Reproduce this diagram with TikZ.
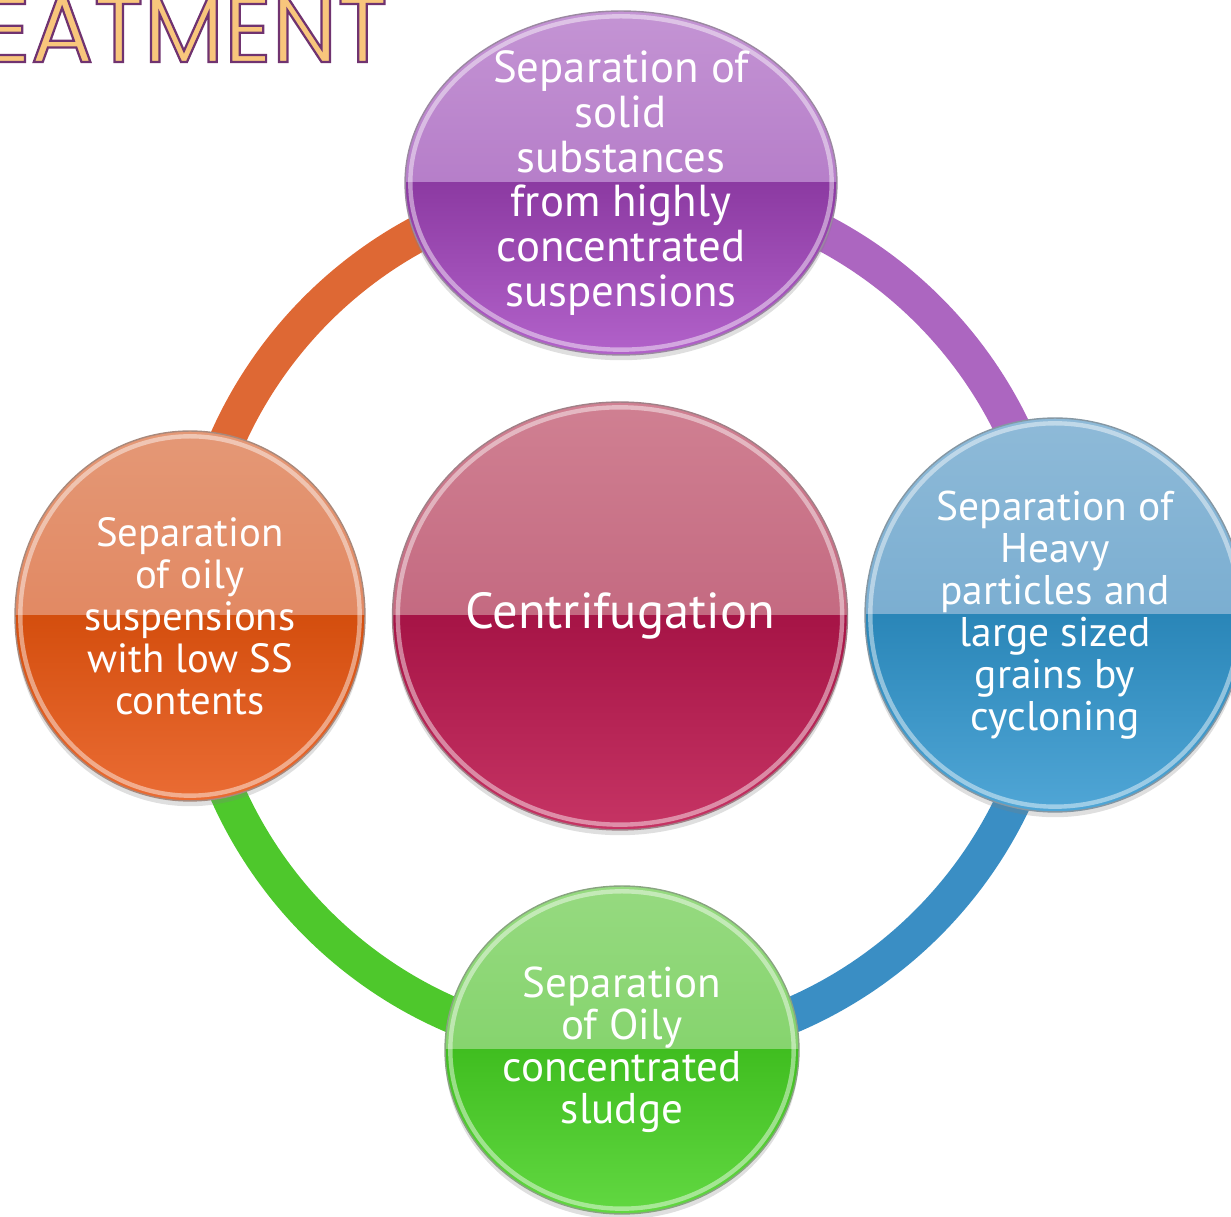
\documentclass[tikz,border=0pt]{standalone}
\usepackage{fontspec}
\setmainfont{PT Sans}
\newfontfamily\titlefont{Poppins}[FakeBold=2.4]
\usetikzlibrary{shapes.geometric,shadows,backgrounds,calc}

\definecolor{purpleA}{RGB}{196,148,212}
\definecolor{purpleB}{RGB}{168,104,190}
\definecolor{purpleC}{RGB}{140,58,162}
\definecolor{purpleD}{RGB}{178,98,202}
\definecolor{blueA}{RGB}{142,186,216}
\definecolor{blueB}{RGB}{104,162,202}
\definecolor{blueC}{RGB}{42,134,184}
\definecolor{blueD}{RGB}{80,166,214}
\definecolor{redA}{RGB}{208,128,146}
\definecolor{redB}{RGB}{184,84,112}
\definecolor{redC}{RGB}{166,20,70}
\definecolor{redD}{RGB}{198,52,100}
\definecolor{orangeA}{RGB}{228,152,118}
\definecolor{orangeB}{RGB}{224,122,80}
\definecolor{orangeC}{RGB}{212,78,14}
\definecolor{orangeD}{RGB}{234,108,52}
\definecolor{greenA}{RGB}{150,218,128}
\definecolor{greenB}{RGB}{118,206,92}
\definecolor{greenC}{RGB}{64,190,32}
\definecolor{greenD}{RGB}{98,216,66}
\definecolor{purpleRing}{RGB}{172,102,192}
\definecolor{blueRing}{RGB}{58,142,196}
\definecolor{greenRing}{RGB}{78,200,44}
\definecolor{orangeRing}{RGB}{222,104,52}
\definecolor{titlefill}{RGB}{248,198,124}

\tikzset{
  ball/.style={ellipse, inner sep=0pt, draw=#1A!40!gray, line width=0.8pt,
    drop shadow={opacity=0.25, shadow xshift=0pt, shadow yshift=-3pt},
    path picture={
      \shade[top color=#1A, bottom color=#1B] (path picture bounding box.north west) rectangle (path picture bounding box.east);
      \shade[top color=#1C, bottom color=#1D] (path picture bounding box.west) rectangle (path picture bounding box.south east);
      \draw[white, opacity=0.45, line width=2.5pt] let \p1=($(path picture bounding box.north east)-(path picture bounding box.center)$) in
        (path picture bounding box.center) ellipse [x radius=\x1-3pt, y radius=\y1-3pt];
    }},
  balltext/.style={align=center, text=white, inner sep=0pt, font=\fontsize{23.6}{23.9}\selectfont},
  ring/.style={line width=0.72cm, draw=#1},
  titletext/.style={inner sep=0pt, text=titlefill, font=\titlefont\fontsize{53}{53}\selectfont},
}

\begin{document}
\begin{tikzpicture}[x=0.02cm, y=0.02cm]

\useasboundingbox (0,0) rectangle (1231,1217);

% title, cut at the page edge (stroke colour set by hand)
\node[titletext, anchor=base east] (title) at (388,1155) {\special{pdf:code 0.44 0.2 0.44 RG}EATMENT};

% the four outer balls and the hub
\node[ball=purple, minimum width=8.64cm, minimum height=6.88cm,
  label={[balltext, font=\fontsize{25.5}{25.4}\selectfont, name=solidstext]center:Separation of\\solid\\substances\\from highly\\concentrated\\suspensions}] (solids) at (621,1034) {};
\node[ball=blue, minimum width=7.6cm, minimum height=7.88cm,
  label={[balltext, name=heavytext]center:Separation of\\Heavy\\particles and\\large sized\\grains by\\cycloning}] (heavy) at (1055,602) {};
\node[ball=green, minimum width=7.08cm, minimum height=6.56cm,
  label={[balltext, font=\fontsize{24.5}{23.9}\selectfont, name=sludgetext]center:Separation\\of Oily\\concentrated\\sludge}] (sludge) at (622,167) {};
\node[ball=orange, minimum width=7cm, minimum height=7.4cm,
  label={[balltext, font=\fontsize{23.2}{23.9}\selectfont, name=oilytext]center:Separation\\of oily\\suspensions\\with low SS\\contents}] (oily) at (190,601) {};
\node[ball=red, minimum width=9.1cm, minimum height=8.56cm,
  label={[balltext, font=\fontsize{28.8}{30}\selectfont, name=centritext]center:Centrifugation}] (centri) at (620,601) {};

% ring behind the balls
\begin{scope}[on background layer]
\draw[ring=purpleRing] (solids.center) to[out=0,in=90] (heavy.center);
\draw[ring=blueRing] (heavy.center) to[out=-90,in=0] (sludge.center);
\draw[ring=greenRing] (sludge.center) to[out=180,in=-90] (oily.center);
\draw[ring=orangeRing] (oily.center) to[out=90,in=180] (solids.center);
\end{scope}

\end{tikzpicture}
\end{document}
